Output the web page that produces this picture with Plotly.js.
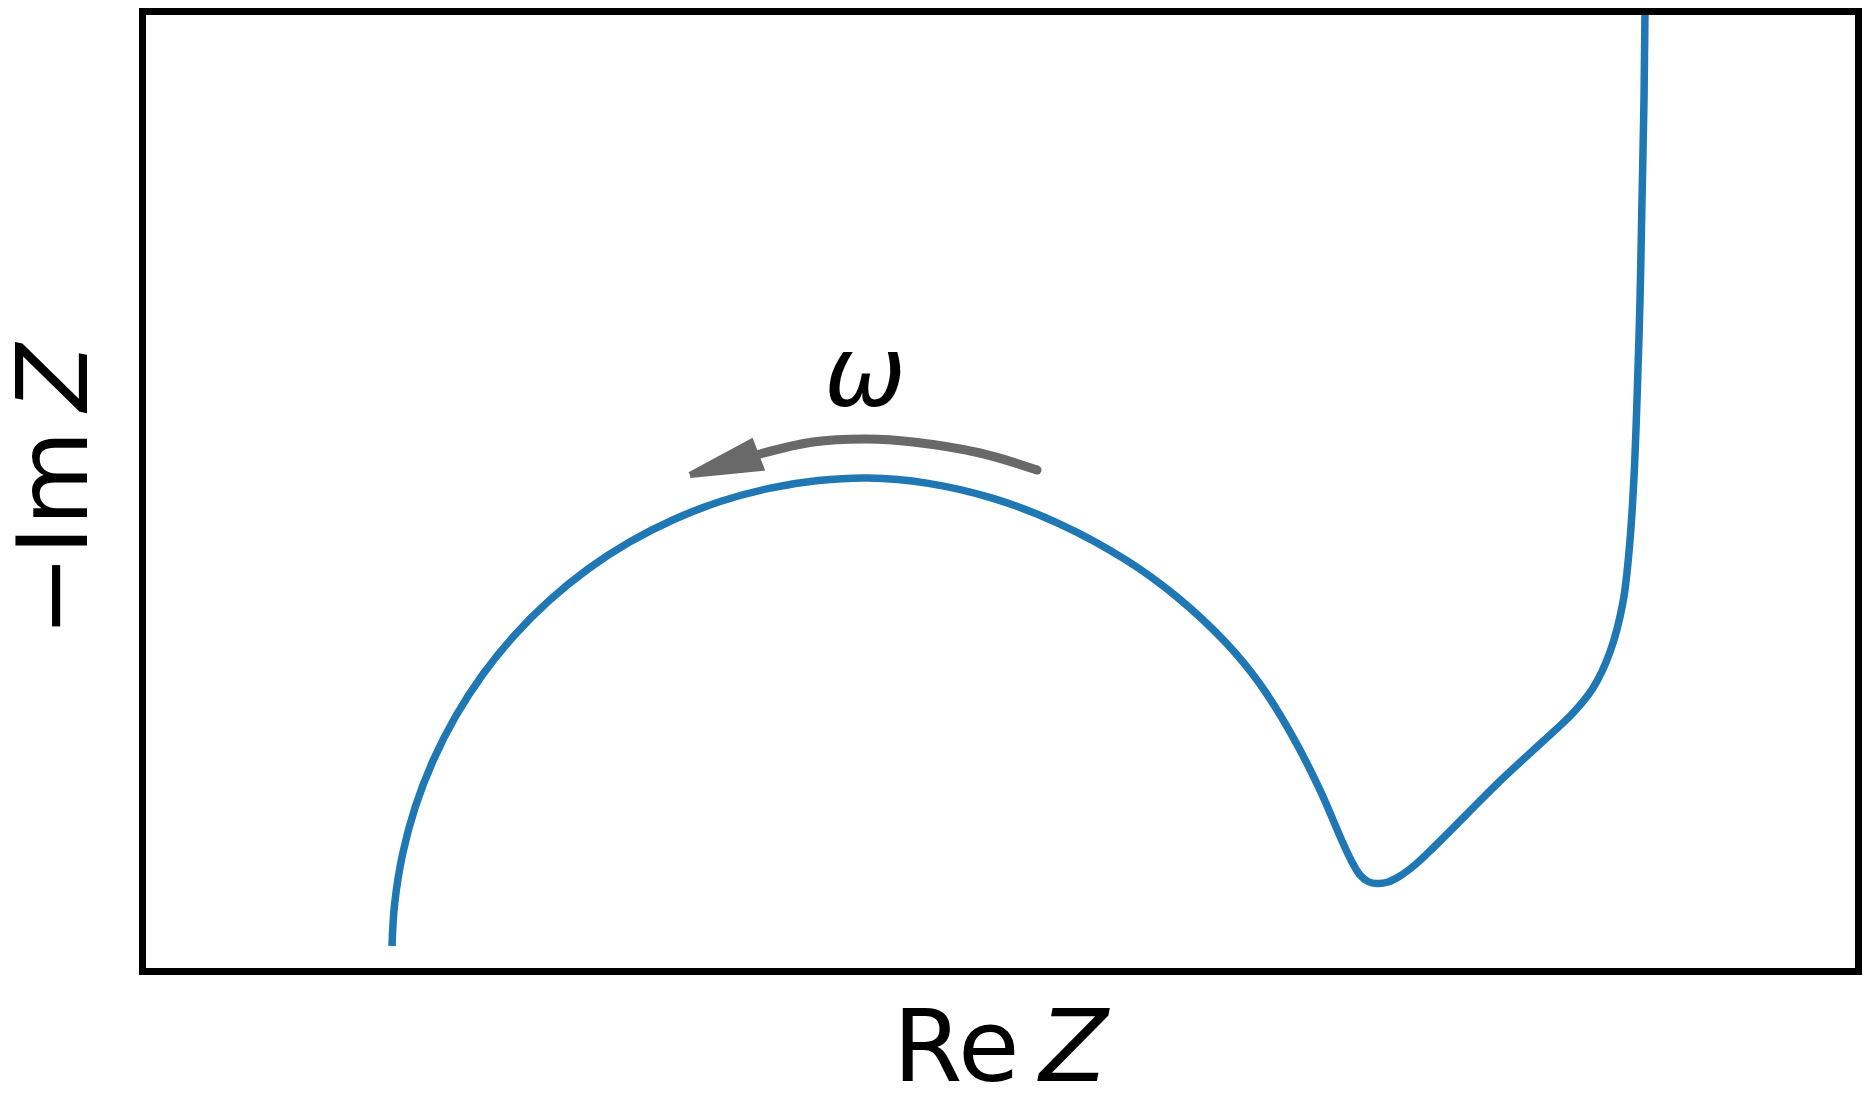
<!DOCTYPE html>
<html>
<head>
<meta charset="utf-8">
<script src="https://cdn.plot.ly/plotly-3.0.1.min.js"></script>
<style>html,body{margin:0;padding:0;background:#fff;}#chart{width:1869px;height:1113px;}</style>
</head>
<body>
<div id="chart"></div>
<script>
// Nyquist curve (arbitrary units)
const reZ = [250,252.6,260.4,273.3,291.2,313.8,340.9,372.3,407.5,446.2,488,532.4,578.9,627,676.2,726,784.8,851.1,917.4,984.2,1034.4,1084.1,1117.2,1151.1,1177.9,1200.6,1210,1218,1226,1235,1246,1258,1274,1291,1325,1358,1398,1431,1451,1468,1481,1488,1492,1495,1498,1500,1502,1503,1504];
const negImZ = [25,66.8,116,164.1,210.6,255,296.8,335.5,370.7,402.1,429.2,451.8,469.7,482.6,490.4,493,487.9,472.6,447.2,410.9,374.5,328.1,288,233.7,181.1,128.8,109,96,89.5,87.5,89,95,107,123,157,190,227,258,283,319,369,431,494,571,671,771,871,959,1031];

// frequency-direction arrow (shaft and head), same units
const arrowShaftX = [895,838,771,725,671,614];
const arrowShaftY = [501,518,529,532,529,516];
const arrowHeadX = [548,609,619,548];
const arrowHeadY = [496,529,503,496];
const omegaLabel = {x: 723, y: 599, text: '<i>ω</i>'};

const xTitle = 'Re\u2009<i>Z</i>';
const yTitle = '\u2212Im\u2009<i>Z</i>';

const blue = '#1f77b4';
const grey = '#696969';
const font = 'DejaVu Sans, sans-serif';

const traces = [
  {x: reZ, y: negImZ, mode: 'lines', line: {color: blue, width: 7.5, shape: 'spline', smoothing: 1, simplify: false}, hoverinfo: 'skip'},
  {x: arrowShaftX, y: arrowShaftY, mode: 'lines', line: {color: grey, width: 9, shape: 'spline', simplify: false}, hoverinfo: 'skip'},
  {x: [arrowShaftX[0]], y: [arrowShaftY[0]], mode: 'markers', marker: {color: grey, size: 9, line: {width: 0}}, hoverinfo: 'skip'},
  {x: arrowHeadX, y: arrowHeadY, mode: 'lines', fill: 'toself', fillcolor: grey, line: {color: grey, width: 6, simplify: false}, hoverinfo: 'skip'}
];

const layout = {
  width: 1869, height: 1113,
  margin: {l: 146, r: 14, t: 15, b: 145, pad: 0},
  paper_bgcolor: '#fff', plot_bgcolor: '#fff',
  showlegend: false,
  xaxis: {range: [4, 1713], showgrid: false, zeroline: false, showticklabels: false, ticks: '',
          showline: true, mirror: true, linecolor: '#000', linewidth: 7,
          title: {text: xTitle, font: {family: font, size: 100, color: '#000'}, standoff: 39}},
  yaxis: {range: [3, 956], showgrid: false, zeroline: false, showticklabels: false, ticks: '',
          showline: true, mirror: true, linecolor: '#000', linewidth: 7},
  annotations: [
    {x: omegaLabel.x, y: omegaLabel.y, xref: 'x', yref: 'y', text: omegaLabel.text, showarrow: false,
     xanchor: 'center', yanchor: 'middle', font: {family: font, size: 98, color: '#000'}},
    {x: (53 - 146) / 1709, y: (968 - 490) / 953, xref: 'paper', yref: 'paper', text: yTitle, textangle: -90,
     showarrow: false, xanchor: 'center', yanchor: 'middle', font: {family: font, size: 98, color: '#000'}}
  ]
};

Plotly.newPlot('chart', traces, layout, {staticPlot: true, displayModeBar: false});
</script>
</body>
</html>
